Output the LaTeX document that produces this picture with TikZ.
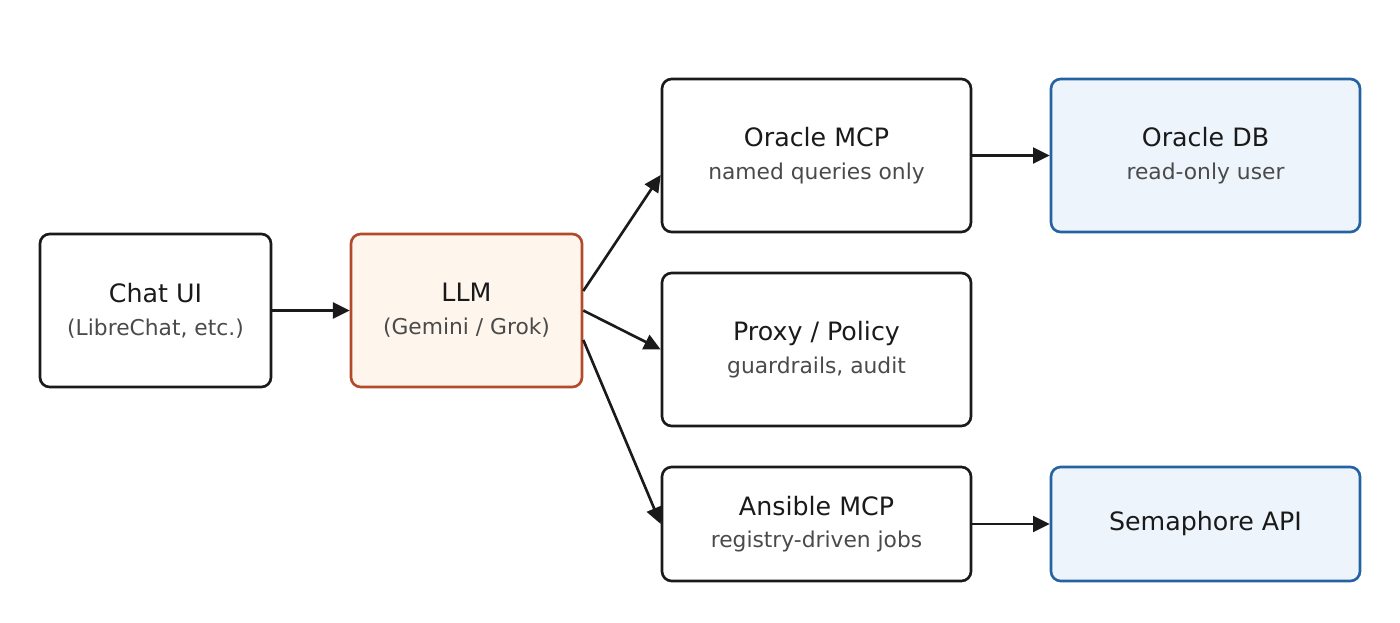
\documentclass[tikz,border=0pt]{standalone}
\usepackage{fontspec}
\setmainfont{DejaVu Sans}
\usetikzlibrary{arrows.meta, positioning}

\definecolor{inkdark}{HTML}{1A1A1A}
\definecolor{subgray}{HTML}{4A4A4A}
\definecolor{llmedge}{HTML}{B24A2B}
\definecolor{llmfill}{HTML}{FEF5EC}
\definecolor{dbedge}{HTML}{2462A2}
\definecolor{dbfill}{HTML}{EDF4FB}

\newcommand{\subtxt}[1]{{\fontsize{12.4}{14}\selectfont\color{subgray}#1}}

\begin{document}
\begin{tikzpicture}[
    box/.style={draw=inkdark, rounded corners=5.5pt, line width=1.5pt, text=inkdark,
                minimum width=4.62cm, minimum height=3.06cm, align=center,
                font=\fontsize{14.4}{16}\selectfont},
    widebox/.style={box, minimum width=6.18cm},
    llmbox/.style={box, draw=llmedge, fill=llmfill},
    dbbox/.style={widebox, draw=dbedge, fill=dbfill},
    arr/.style={-{Triangle[length=9.5pt, width=9pt]}, line width=1.5pt, draw=inkdark},
]
\useasboundingbox (0,0) rectangle (28,-12.44);

% Front end
\node[box] (chat) at (3.11,-6.21) {Chat UI\\[2.6pt]\subtxt{(LibreChat, etc.)}};
\node[llmbox] (llm) at (9.33,-6.21) {LLM\\[2.6pt]\subtxt{(Gemini / Grok)}};
\draw[arr] (chat) -- (llm);

% Middle tier
\node[widebox] (omcp) at (16.33,-3.11) {Oracle MCP\\[2.6pt]\subtxt{named queries only}};
\node[widebox] (proxy) at (16.33,-6.99) {Proxy / Policy\\[2.6pt]\subtxt{guardrails, audit}};
\node[widebox, minimum height=2.28cm] (amcp) at (16.33,-10.48)
    {Ansible MCP\\[2.6pt]\subtxt{registry-driven jobs}};

% Back ends
\node[dbbox] (odb) at (24.11,-3.11) {Oracle DB\\[2.6pt]\subtxt{read-only user}};
\node[dbbox, minimum height=2.28cm] (sema) at (24.11,-10.48) {Semaphore API};

% Connectors
\draw[arr] ([yshift=0.39cm]llm.east) -- ([yshift=-0.39cm]omcp.west);
\draw[arr] (llm.east) -- (proxy.west);
\draw[arr] ([yshift=-0.59cm]llm.east) -- (amcp.west);
\draw[arr] (omcp) -- (odb);
\draw[arr] (amcp) -- (sema);

\end{tikzpicture}
\end{document}
